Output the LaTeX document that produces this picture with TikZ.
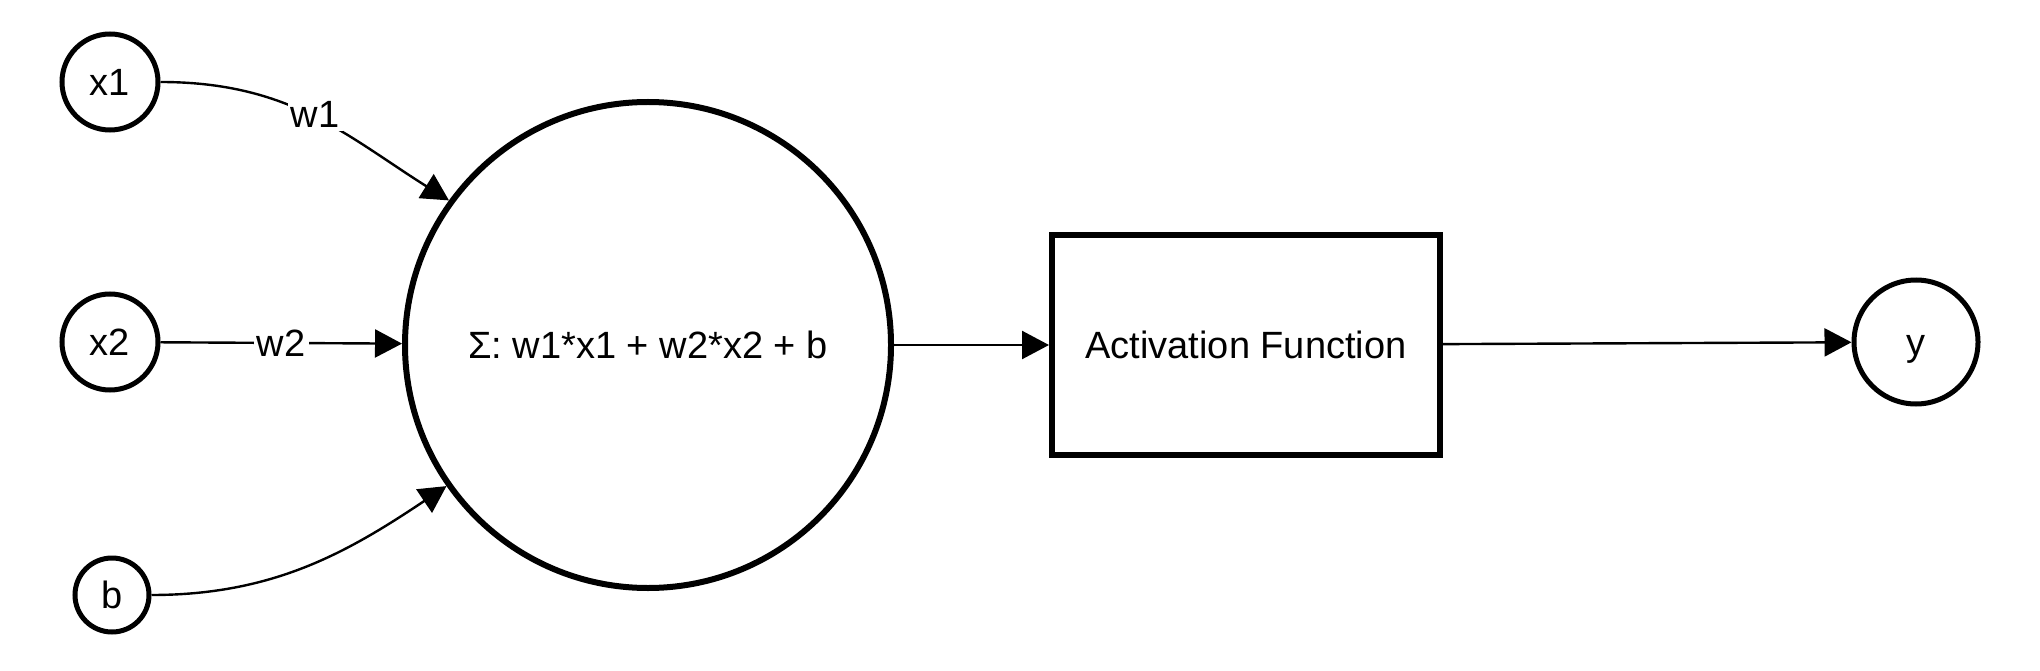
\documentclass[tikz,border=0pt]{standalone}
\usepackage{fontspec}
\setmainfont{Liberation Sans}
\usetikzlibrary{arrows.meta}
\begin{document}
\begin{tikzpicture}[x=1pt,y=-1pt,
  every node/.style={font=\fontsize{38}{46}\selectfont, text height=27pt, text depth=0pt},
  inp/.style={circle, draw, line width=5pt, minimum size=96pt, inner sep=0pt},
  bigc/.style={circle, draw, line width=6pt, minimum size=486pt, inner sep=0pt},
  actbox/.style={rectangle, draw, line width=6pt, minimum width=388pt, minimum height=220pt, inner sep=0pt},
  edge/.style={line width=2.4pt, -{Triangle[length=27pt,width=28pt]}},
  lbl/.style={fill=white, inner sep=3pt}
]
\useasboundingbox (0,0) rectangle (2040,671);
\node[inp] (x1) at (110,82) {x1};
\node[inp] (x2) at (110,342) {x2};
\node[inp, minimum size=74pt] (b) at (112,595) {b};
\node[bigc] (sum) at (648,345) {Σ: w1*x1 + w2*x2 + b};
\node[actbox] (act) at (1246,345) {Activation Function};
\node[inp, minimum size=124pt] (y) at (1916,342) {y};

\draw[edge] (x1.east) .. controls +(130,0) and +(-102,-64) .. (sum.144) node[lbl,pos=0.5,yshift=3pt]{w1};
\draw[edge] (x2) -- (sum) node[lbl,midway]{w2};
\draw[edge] (b.east) .. controls +(121,0) and +(-100,67) .. (sum.215);
\draw[edge] (sum) -- (act);
\draw[edge] (act) -- (y);
\end{tikzpicture}
\end{document}
